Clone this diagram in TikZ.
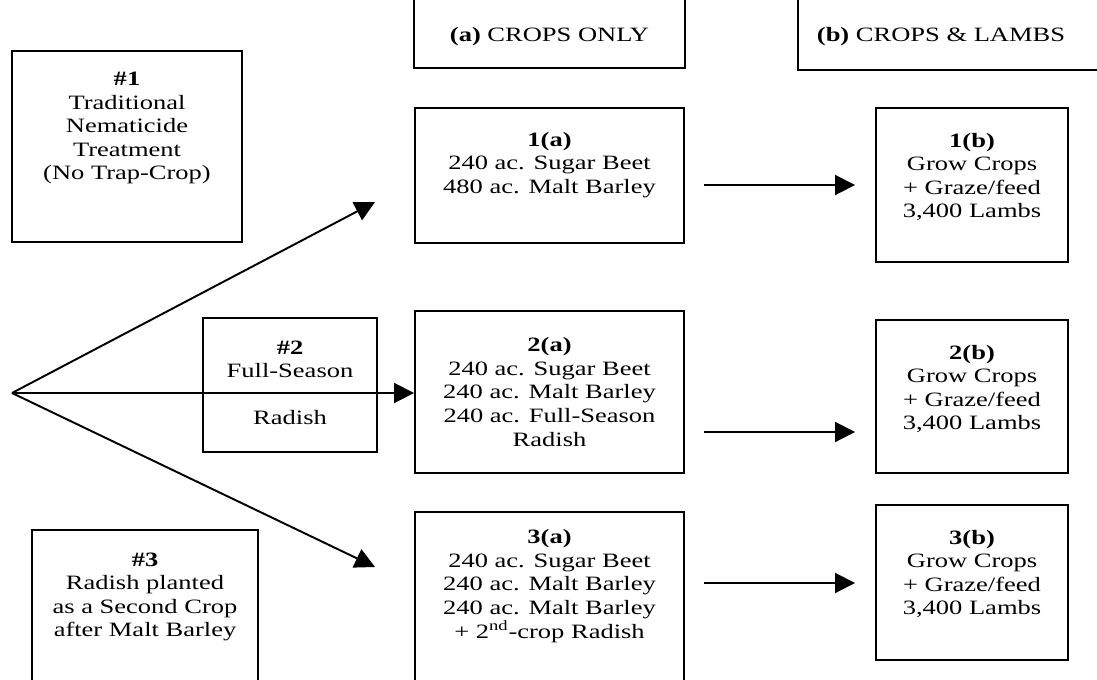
\documentclass[tikz,border=0pt]{standalone}
\usepackage{fontspec}
\setmainfont{Liberation Serif}[FakeStretch=1.3]
\usetikzlibrary{arrows.meta, positioning}

\tikzset{
  box/.style={draw, line width=1.1pt, inner sep=0pt},
  wh/.style 2 args={minimum width=#1*0.2mm, minimum height=#2*0.2mm},
  txt/.style={align=center, inner sep=0pt, font=\fontsize{11.6pt}{13.4pt}\selectfont},
  flow/.style={line width=1.1pt, -{Triangle[length=4mm, width=4mm]}},
}

\begin{document}
\begin{tikzpicture}[x=0.2mm, y=-0.2mm]
	\clip (0,0) rectangle (1097,679);
	\coordinate (fan) at (12,393);
	\coordinate (tip1) at (375,202);
	\coordinate (tip3) at (375,567);

	% column headers
	\node[box, wh={271}{88}] (hdrA) at (549.5,24) {};
	\node[txt] (hdrAtxt) at (549.5,37) {\textbf{(a)} CROPS ONLY};
	\node[box, wh={322}{90}] (hdrB) at (959,25) {};
	\node[txt] (hdrBtxt) at (941,37) {\textbf{(b)} CROPS \& LAMBS};

	% options
	\node[box, wh={230}{191}] (opt1) at (127,146.5) {};
	\node[txt] (opt1txt) at (127,128) {\textbf{\#1}\\Traditional\\Nematicide\\Treatment\\(No Trap-Crop)};
	\node[box, wh={174}{134}] (opt2) at (290,385) {};
	\node[txt] (opt2txt) at (290,383) {\textbf{\#2}\\Full-Season\\[\baselineskip]Radish};
	\node[box, wh={226}{170}] (opt3) at (145,615) {};
	\node[txt] (opt3txt) at (145,597) {\textbf{\#3}\\Radish planted\\as a Second Crop\\after Malt Barley};

	% crops only
	\node[box, wh={269}{135}] (crop1) at (549.5,175.5) {};
	\node[txt] (crop1txt) at (549.5,165) {\textbf{1(a)}\\240 ac. Sugar Beet\\480 ac. Malt Barley};
	\node[box, wh={269}{162}] (crop2) at (549.5,392) {};
	\node[txt] (crop2txt) at (549.5,392) {\textbf{2(a)}\\240 ac. Sugar Beet\\240 ac. Malt Barley\\240 ac. Full-Season\\Radish};
	\node[box, wh={269}{188}] (crop3) at (549.5,606) {};
	\node[txt] (crop3txt) at (549.5,586) {\textbf{3(a)}\\240 ac. Sugar Beet\\240 ac. Malt Barley\\240 ac. Malt Barley\\+ 2\textsuperscript{nd}-crop Radish};

	% crops and lambs
	\node[box, wh={192}{154}] (lamb1) at (972,185) {};
	\node[txt] (lamb1txt) at (972,177) {\textbf{1(b)}\\Grow Crops\\+ Graze/feed\\3,400 Lambs};
	\node[box, wh={192}{153}] (lamb2) at (972,396.5) {};
	\node[txt] (lamb2txt) at (972,389) {\textbf{2(b)}\\Grow Crops\\+ Graze/feed\\3,400 Lambs};
	\node[box, wh={192}{155}] (lamb3) at (972,582.5) {};
	\node[txt] (lamb3txt) at (972,574) {\textbf{3(b)}\\Grow Crops\\+ Graze/feed\\3,400 Lambs};

	% arrows
	\draw[flow] (fan) -- (tip1);
	\draw[flow] (fan) -- (fan -| crop2.west);
	\draw[flow] (fan) -- (tip3);
	\coordinate (row1) at (0,185);
	\coordinate (row2) at (0,432);
	\coordinate (row3) at (0,583);
	\draw[flow, shorten <=3.8mm, shorten >=4mm] (crop1.east |- row1) -- (lamb1.west |- row1);
	\draw[flow, shorten <=3.8mm, shorten >=4mm] (crop2.east |- row2) -- (lamb2.west |- row2);
	\draw[flow, shorten <=3.8mm, shorten >=4mm] (crop3.east |- row3) -- (lamb3.west |- row3);
\end{tikzpicture}
\end{document}
